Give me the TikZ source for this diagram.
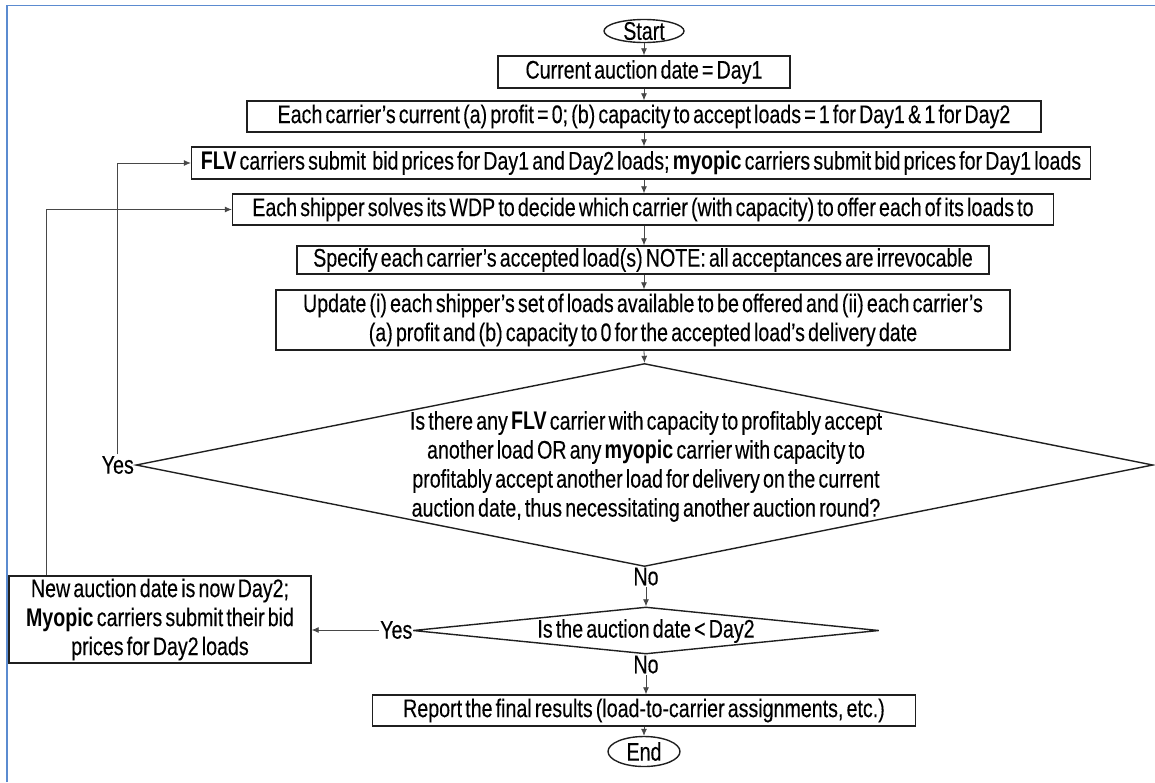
\documentclass[tikz,border=0pt]{standalone}
\usepackage{fontspec}
\setmainfont{Liberation Sans}[FakeStretch=0.77,WordSpace=0.58,UprightFeatures={FakeBold=0.25}]
\usetikzlibrary{shapes.geometric,arrows.meta}
\definecolor{framebl}{HTML}{5B8BD0}
\begin{document}
\begin{tikzpicture}[x=1pt,y=-1pt,
  every node/.style={font=\fontsize{25.5}{29}\selectfont, text=black},
  box/.style={draw=black!88, line width=1.4pt, rectangle, inner sep=0pt, align=center},
  term/.style={draw=black!88, line width=1.4pt, ellipse, inner sep=0pt},
  dia/.style={draw=black!88, line width=1.4pt, diamond, inner sep=0pt},
  lbl/.style={inner sep=1.5pt, align=center},
  arr/.style={draw=black!72, line width=0.8pt, -{Latex[length=7pt,width=6pt]}},
  frame/.style={draw=framebl, line width=1.8pt}]

\useasboundingbox (0,0) rectangle (1155,782);
\draw[frame] (7,782) -- (7,5.5) -- (1155,5.5);

% terminals
\node[term, minimum width=80pt, minimum height=23pt] (start) at (644,31) {};
\node[lbl] (starttxt) at (start) {Start};
\node[term, minimum width=72pt, minimum height=30pt] (end) at (644,751.5) {};
\node[lbl] (endtxt) at (end) {End};

% process boxes
\node[box, minimum width=292pt, minimum height=32pt] (b1) at (644,72) {Current auction date = Day1};
\node[box, minimum width=794pt, minimum height=31pt] (b2) at (644,116.5) {Each carrier’s current (a) profit = 0; (b) capacity to accept loads = 1 for Day1 \& 1 for Day2};
\node[box, minimum width=899pt, minimum height=32pt] (b3) at (641,163) {\textbf{FLV} carriers submit\ \ bid prices for Day1 and Day2 loads; \textbf{myopic} carriers submit bid prices for Day1 loads};
\node[box, minimum width=821pt, minimum height=31pt] (b4) at (643,209.5) {Each shipper solves its WDP to decide which carrier (with capacity) to offer each of its loads to};
\node[box, minimum width=692pt, minimum height=28pt] (b5) at (643,260) {Specify each carrier’s accepted load(s) NOTE: all acceptances are irrevocable};
\node[box, minimum width=734pt, minimum height=60pt] (b6) at (643,320) {Update (i) each shipper’s set of loads available to be offered and (ii) each carrier’s\\(a) profit and (b) capacity to 0 for the accepted load’s delivery date};

% decision 1
\node[dia, minimum width=1017pt, minimum height=203pt] (d1) at (644.5,465) {};
\node[lbl] (d1txt) at (646,466.5) {Is there any \textbf{FLV} carrier with capacity to profitably accept\\another load OR any \textbf{myopic} carrier with capacity to\\profitably accept another load for delivery on the current\\auction date, thus necessitating another auction round?};
\node[lbl, anchor=east] (yes1) at (135.5,465) {Yes};
\node[lbl, anchor=north] (no1) at (646,566) {No};

% decision 2
\node[dia, minimum width=466pt, minimum height=47pt] (d2) at (646,630.5) {};
\node[lbl] (d2txt) at (646,631) {Is the auction date < Day2};
\node[lbl, anchor=east] (yes2) at (414,630) {Yes};
\node[lbl, anchor=north] (no2) at (646,654) {No};

% other boxes
\node[box, minimum width=302pt, minimum height=87pt] (b7) at (160,619.5) {New auction date is now Day2;\\\textbf{Myopic} carriers submit their bid\\prices for Day2 loads};
\node[box, minimum width=543pt, minimum height=31pt] (b8) at (644,710.5) {Report the final results (load-to-carrier assignments, etc.)};

% main flow
\draw[arr] (start) -- (start |- b1.north);
\draw[arr] (b1) -- (b1 |- b2.north);
\draw[arr] (b1 |- b2.south) -- (b1 |- b3.north);
\draw[arr] (b1 |- b3.south) -- (b1 |- b4.north);
\draw[arr] (b1 |- b4.south) -- (b1 |- b5.north);
\draw[arr] (b1 |- b5.south) -- (b1 |- b6.north);
\draw[arr] (b1 |- b6.south) -- (d1.north);
\draw[arr] (no1) -- (d2.north);
\draw[arr] (no2) -- (no2 |- b8.north);
\draw[arr] (b8) -- (end);

% loops
\draw[arr] (yes1.north) |- (b3.west);
\draw[arr] (yes2.west) -- (yes2.west -| b7.east);
\draw[arr] ([xshift=38pt]b7.north west) |- (b4.west);
\end{tikzpicture}
\end{document}
